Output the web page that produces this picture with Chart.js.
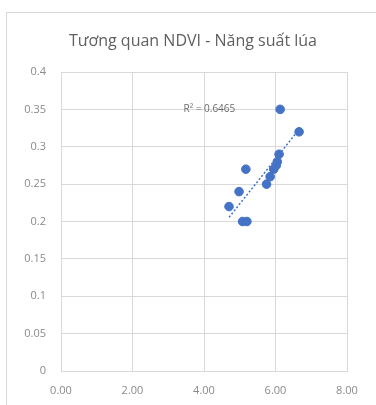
<!DOCTYPE html>
<html>
<head>
<meta charset="utf-8">
<script src="https://cdn.jsdelivr.net/npm/chart.js@4/dist/chart.umd.min.js"></script>
<style>
  html, body { margin: 0; padding: 0; background: #fff; }
  #wrap { position: relative; width: 376px; height: 405px; overflow: hidden; }
  #frame { position: absolute; left: 6px; top: 12px; width: 400px; height: 420px;
           border: 1px solid #d9d9d9; box-sizing: border-box; }
  #c { position: absolute; left: 0; top: 0; }
</style>
</head>
<body>
<div id="wrap">
  <div id="frame"></div>
  <canvas id="c" width="376" height="405"></canvas>
</div>
<script>
// Yield (x) against NDVI (y) for each sample plot
const yieldValues = [4.70, 4.98, 5.08, 5.20, 5.17, 5.75, 5.85, 5.95, 6.02, 6.05, 6.10, 6.13, 6.66];
const ndviValues  = [0.22, 0.24, 0.20, 0.20, 0.27, 0.25, 0.26, 0.27, 0.275, 0.28, 0.29, 0.35, 0.32];
const chartTitle = 'Tương quan NDVI - Năng suất lúa';
const r2Label = 'R² = 0.6465';
const xTicks = [0, 2, 4, 6, 8];
const yTicks = [0, 0.05, 0.1, 0.15, 0.2, 0.25, 0.3, 0.35, 0.4];

const points = yieldValues.map((x, i) => ({ x: x, y: ndviValues[i] }));

// Least-squares linear trendline
const n = points.length;
const mx = yieldValues.reduce((a, b) => a + b, 0) / n;
const my = ndviValues.reduce((a, b) => a + b, 0) / n;
let sxy = 0, sxx = 0;
points.forEach(p => { sxy += (p.x - mx) * (p.y - my); sxx += (p.x - mx) * (p.x - mx); });
const slope = sxy / sxx;
const intercept = my - slope * mx;
const xMin = Math.min(...yieldValues), xMax = Math.max(...yieldValues);
const trend = [
  { x: xMin, y: intercept + slope * xMin },
  { x: xMax, y: intercept + slope * xMax }
];

const blue = '#4472c4';
const gridColor = '#d9d9d9';
const tickColor = '#8a8a8a';
const fontFamily = '"Open Sans", "Noto Sans", sans-serif';

// Title and R² annotation drawn on the canvas
const textPlugin = {
  id: 'chartText',
  afterDatasetsDraw(chart) {
    const { ctx, scales } = chart;
    ctx.save();
    ctx.textAlign = 'center';
    ctx.textBaseline = 'middle';

    ctx.font = '16px ' + fontFamily;
    ctx.fillStyle = '#5f5f5f';
    ctx.fillText(chartTitle, 193, 41);

    const px = scales.x.getPixelForValue(4.15);
    const py = scales.y.getPixelForValue(0.35);
    ctx.font = '10px ' + fontFamily;
    ctx.fillStyle = '#6b6b6b';
    ctx.fillText(r2Label, px, py);
    ctx.restore();
  }
};

new Chart(document.getElementById('c'), {
  type: 'scatter',
  data: {
    datasets: [
      {
        label: 'Trendline',
        type: 'line',
        data: trend,
        borderColor: blue,
        borderWidth: 1.5,
        borderDash: [2, 2],
        pointRadius: 0,
        fill: false,
        order: 2
      },
      {
        label: 'NDVI',
        data: points,
        backgroundColor: blue,
        borderColor: blue,
        pointRadius: 4.3,
        pointHoverRadius: 4.3,
        order: 1
      }
    ]
  },
  options: {
    responsive: false,
    animation: false,
    events: [],
    layout: { padding: { left: 6, right: 29, top: 72, bottom: 0 } },
    plugins: {
      legend: { display: false },
      tooltip: { enabled: false },
      title: { display: false }
    },
    scales: {
      x: {
        type: 'linear',
        min: 0, max: 8,
        afterBuildTicks(scale) { scale.ticks = xTicks.map(v => ({ value: v })); },
        afterFit(scale) { scale.height = 34; },
        ticks: {
          padding: 13,
          color: tickColor,
          font: { family: fontFamily, size: 11 },
          callback: v => Number(v).toFixed(2)
        },
        grid: { color: gridColor, drawTicks: false },
        border: { color: gridColor }
      },
      y: {
        type: 'linear',
        min: 0, max: 0.4,
        afterBuildTicks(scale) { scale.ticks = yTicks.map(v => ({ value: v })); },
        afterFit(scale) { scale.width = 55; },
        ticks: {
          padding: 15,
          color: tickColor,
          font: { family: fontFamily, size: 11 },
          callback: v => String(+Number(v).toFixed(2))
        },
        grid: { color: gridColor, drawTicks: false },
        border: { color: gridColor }
      }
    }
  },
  plugins: [textPlugin]
});
</script>
</body>
</html>
